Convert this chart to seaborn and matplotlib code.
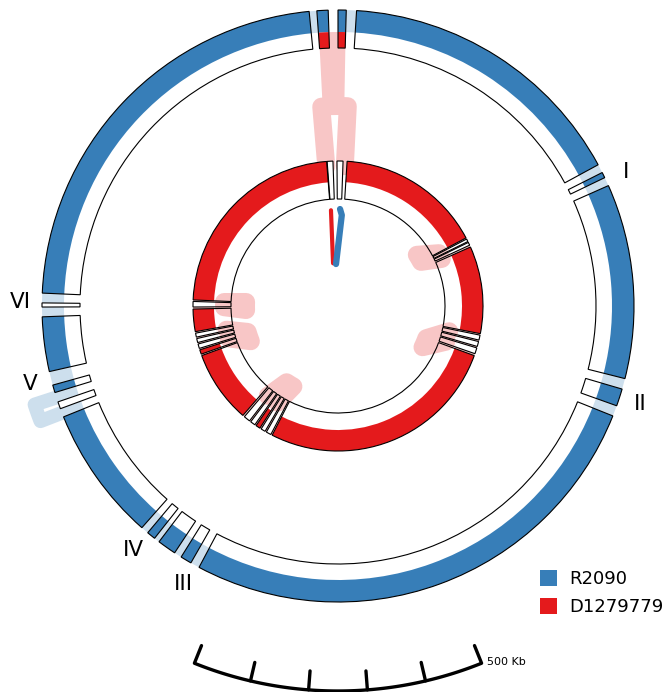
import numpy as np
import matplotlib
matplotlib.use("Agg")
import matplotlib.pyplot as plt
from matplotlib.patches import Patch
import seaborn as sns

sns.set_theme(style="white")
plt.rcParams['font.family'] = ['DejaVu Sans']

# Genomes shown (outer ring, inner ring)
GENOMES = ['R2090', 'D1279779']

# Outer ring (R2090): blocks as angles in degrees, clockwise from top
OUTER_START = [0.0, 3.6, 63.2, 66.0, 106.3, 111.8, 209.8, 213.5, 218.3, 221.5,
               249.7, 253.0, 257.2, 269.8, 272.5, 355.9]
OUTER_END = [1.6, 61.5, 64.3, 104.2, 109.7, 208.0, 212.0, 217.2, 220.0, 248.0,
             251.1, 254.5, 267.9, 270.6, 354.4, 358.1]
# 'band' = coloured band, 'none' = empty block, 'both' = band + inner red
OUTER_FILL = ['both', 'band', 'band', 'band', 'band', 'band', 'band', 'band',
              'band', 'band', 'none', 'band', 'band', 'none', 'band', 'both']
# highlighted gaps of the outer ring
OUTER_GAP_START = [1.6, 61.5, 64.3, 104.2, 109.7, 208.0, 212.0, 217.2, 220.0,
                   248.0, 251.1, 254.5, 267.9, 270.6, 354.4]
OUTER_GAP_END = [3.6, 63.2, 66.0, 106.3, 111.8, 209.8, 213.5, 218.3, 221.5,
                 249.7, 253.0, 257.2, 269.8, 272.5, 355.9]

# Inner ring (D1279779)
INNER_START = [-0.4, 3.6, 62.5, 64.0, 66.0, 101.6, 104.2, 106.8, 110.0, 207.6,
               210.2, 212.6, 215.0, 217.6, 221.0, 250.6, 253.0, 255.4, 257.6,
               259.8, 269.6, 272.4, 355.7]
INNER_END = [2.0, 62.0, 63.6, 65.2, 101.0, 103.6, 106.2, 109.2, 207.0, 209.6,
             212.0, 214.4, 217.0, 220.2, 250.0, 252.4, 254.8, 257.0, 259.2,
             268.8, 271.8, 355.5, 358.0]
INNER_FILL = ['none', 'band', 'none', 'none', 'band', 'none', 'none', 'none',
              'band', 'none', 'none', 'band', 'none', 'none', 'band', 'band',
              'none', 'none', 'none', 'band', 'none', 'band', 'none']
INNER_GAP_START = [62.0, 101.0, 207.0, 250.0, 268.8]
INNER_GAP_END = [66.0, 110.0, 221.0, 259.8, 272.4]

# hairpin links on the inner ring: leg angles at the ring, angles at the turn
INNER_LOOP_A = [62.4, 102.8, 212.0, 253.5, 269.4]
INNER_LOOP_B = [65.6, 108.2, 218.0, 258.0, 272.0]
INNER_TURN_A = [57.0, 110.0, 209.0, 248.0, 267.5]
INNER_TURN_B = [62.0, 116.0, 214.0, 254.0, 272.5]
INNER_TURN_R = [94, 94, 92, 94, 92]
# hairpin link on the outer ring (drawn outwards)
OUTER_LOOP = (252.0, 248.85, 319)
# link from the outer ring to the inner ring at the top
TOP_RIBBON_OUT = (-4.0, 1.6)
TOP_RIBBON_IN = (-4.4, 1.8)
TOP_LOOP = (-4.8, 2.8, 200)
# short links near the centre
CENTER_RED_R = [96, 43]
CENTER_RED_DEG = [-4.2, -6.6]
CENTER_BLUE_R = [97, 91, 42]
CENTER_BLUE_DEG = [1.2, 2.4, -2.7]

# region labels
LABELS = ['I', 'II', 'III', 'IV', 'V', 'VI']
LABEL_DEG = [65.0, 108.0, 209.0, 220.0, 255.8, 270.7]

# scale bar
GENOME_KB = 4110
SCALE_KB = 500
SCALE_STEP = 100

# ring radii (in pixels)
R_OUT = [296, 145]
R_MID = [274, 124]
R_IN = [258, 107]

pal = sns.color_palette("Set1")
blue, red = pal[1], pal[0]
light = lambda c: tuple(0.25 * np.array(c) + 0.75)
light_blue, light_red = light(blue), light(red)

W, H = 665, 692
cx, cy, RMAX = 338, 306, 400
fig = plt.figure(figsize=(W / 100, H / 100), dpi=100)
ax = fig.add_axes([(cx - RMAX) / W, (H - cy - RMAX) / H, 2 * RMAX / W, 2 * RMAX / H],
                  projection='polar')
ax.set_theta_zero_location('N')
ax.set_theta_direction(-1)
ax.set_rlim(0, RMAX)
ax.axis('off')

rad = np.deg2rad


def arc(a, b, r, n=60):
    t = np.linspace(rad(a), rad(b), n)
    return t, np.full(n, float(r))


def hairpin(a, b, r0, r1, color, lw, ta=None, tb=None, z=1):
    ta = a if ta is None else ta
    tb = b if tb is None else tb
    at, ar = arc(ta, tb, r1)
    t = np.concatenate([[rad(a)], at, [rad(b)]])
    r = np.concatenate([[r0], ar, [r0]])
    ax.plot(t, r, color=color, lw=lw, solid_joinstyle='round',
            solid_capstyle='round', zorder=z)


def blocks(start, end, r0, r1, **kw):
    start, end = np.array(start), np.array(end)
    ax.bar(rad((start + end) / 2), r1 - r0, width=rad(end - start), bottom=r0,
           align='center', **kw)


# links
for a, b, ta, tb, r in zip(INNER_LOOP_A, INNER_LOOP_B, INNER_TURN_A,
                           INNER_TURN_B, INNER_TURN_R):
    hairpin(a, b, 114, r, light_red, 18 * 0.72, ta, tb, z=10)
hairpin(OUTER_LOOP[0], OUTER_LOOP[1], 286, OUTER_LOOP[2], light_blue, 14 * 0.72)
hairpin(TOP_LOOP[0], TOP_LOOP[1], 140, TOP_LOOP[2], light_red, 18 * 0.72)
t1, r1 = arc(TOP_RIBBON_OUT[0], TOP_RIBBON_OUT[1], R_MID[0], 20)
t2, r2 = arc(TOP_RIBBON_IN[1], TOP_RIBBON_IN[0], TOP_LOOP[2], 20)
ax.fill(np.concatenate([t1, t2]), np.concatenate([r1, r2]), color=light_red,
        lw=0, zorder=1)

# highlighted gaps
blocks(OUTER_GAP_START, OUTER_GAP_END, R_MID[0], R_OUT[0], color=light_blue,
       lw=0, zorder=2)
blocks(INNER_GAP_START, INNER_GAP_END, R_MID[1], R_OUT[1], color=light_red,
       lw=0, zorder=2)

# ring blocks
rings = [(OUTER_START, OUTER_END, OUTER_FILL, blue, 0),
         (INNER_START, INNER_END, INNER_FILL, red, 1)]
for s, e, f, col, i in rings:
    s, e, f = np.array(s), np.array(e), np.array(f)
    band = f != 'none'
    blocks(s[band], e[band], R_MID[i], R_OUT[i], color=col, lw=0, zorder=3)
    blocks(s[~band], e[~band], R_MID[i], R_OUT[i], color='white', lw=0, zorder=3)
    both = f == 'both'
    if both.any():
        blocks(s[both], e[both], R_IN[i], R_MID[i], color=red, lw=0, zorder=3)
    blocks(s, e, R_IN[i], R_OUT[i], fill=False, edgecolor='black',
           lw=0.8, zorder=11)

# short links near the centre
ax.plot(rad(np.array(CENTER_RED_DEG)), CENTER_RED_R, color=red, lw=3,
        solid_capstyle='round', zorder=12)
ax.plot(rad(np.array(CENTER_BLUE_DEG)), CENTER_BLUE_R, color=blue, lw=4.5,
        solid_capstyle='round', solid_joinstyle='round', zorder=13)

# region labels
for lab, d in zip(LABELS, LABEL_DEG):
    ax.text(rad(d), 318, lab, ha='center', va='center', fontsize=15.5,
            color='black')

# scale bar
half = SCALE_KB / GENOME_KB * 360 / 2
ta, ra = arc(180 + half, 180 - half, 385, 100)
ax.plot(ta, ra, color='black', lw=2.4, solid_capstyle='butt', zorder=5)
for kb in np.arange(0, SCALE_KB + 1, SCALE_STEP):
    d = 180 + half - kb / GENOME_KB * 360
    ax.plot([rad(d), rad(d)], [385, 366], color='black', lw=2.4, zorder=5)
ax.annotate(f'{SCALE_KB} Kb', xy=(rad(180 - half), 385), xytext=(4, 1),
            textcoords='offset points', ha='left', va='center', fontsize=8,
            color='black')

# legend
handles = [Patch(facecolor=blue, edgecolor='none'), Patch(facecolor=red, edgecolor='none')]
fig.legend(handles, GENOMES, loc='upper left', bbox_to_anchor=(540 / W, 1 - 570 / H),
           frameon=False, fontsize=13, handlelength=0.95, handleheight=0.95,
           handletextpad=0.65, labelspacing=0.55, borderpad=0, borderaxespad=0,
           labelcolor='black')

fig.savefig('out.png', dpi=100)
